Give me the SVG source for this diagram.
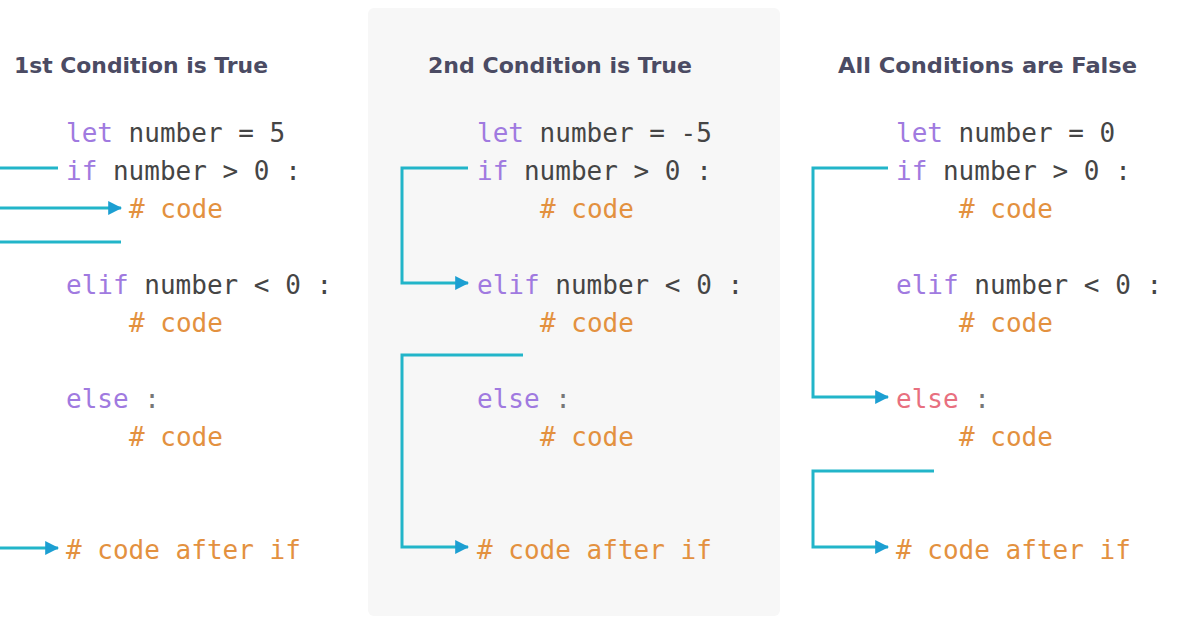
<svg xmlns="http://www.w3.org/2000/svg" width="1200" height="628" viewBox="0 0 1200 628">
<defs>
<style>
.title{font-family:"DejaVu Sans","Noto Sans",sans-serif;font-weight:700;font-size:21px;fill:#4b4b63}
.code{font-family:"DejaVu Sans Mono","Liberation Mono",monospace;font-size:26px;fill:#454545}
.kw{fill:#a07ae0}
.cm{fill:#e3913f}
.er{fill:#e8707f}
.pu{fill:#777}
.ln{fill:none;stroke:#22b5c9;stroke-width:3}
.ar{fill:none;stroke:#22b5c9;stroke-width:3;marker-end:url(#ah)}
</style>
<marker id="ah" viewBox="0 0 12 12" refX="11" refY="6" markerWidth="14" markerHeight="14" markerUnits="userSpaceOnUse" orient="auto">
<path d="M0,0 L12,6 L0,12 z" fill="#1c9fd2"/>
</marker>
</defs>
<rect x="0" y="0" width="1200" height="628" fill="#ffffff"/>
<rect id="panel-bg" x="368" y="8" width="412" height="608" rx="6" fill="#f7f7f7"/>

<g id="panel-1st">
<text class="title" x="14" y="73" textLength="254" lengthAdjust="spacingAndGlyphs">1st Condition is True</text>
<text class="code" x="66" y="142"><tspan class="kw">let</tspan> number = 5</text>
<text class="code" x="66" y="180"><tspan class="kw">if</tspan> number &gt; 0 :</text>
<text class="code cm" x="129" y="218"># code</text>
<text class="code" x="66" y="294"><tspan class="kw">elif</tspan> number &lt; 0 :</text>
<text class="code cm" x="129" y="332"># code</text>
<text class="code" x="66" y="408"><tspan class="kw">else</tspan> <tspan class="pu">:</tspan></text>
<text class="code cm" x="129" y="446"># code</text>
<text class="code cm" x="66" y="559"># code after if</text>
</g>

<g id="panel-2nd">
<text class="title" x="428" y="73" textLength="264" lengthAdjust="spacingAndGlyphs">2nd Condition is True</text>
<text class="code" x="477" y="142"><tspan class="kw">let</tspan> number = -5</text>
<text class="code" x="477" y="180"><tspan class="kw">if</tspan> number &gt; 0 :</text>
<text class="code cm" x="540" y="218"># code</text>
<text class="code" x="477" y="294"><tspan class="kw">elif</tspan> number &lt; 0 :</text>
<text class="code cm" x="540" y="332"># code</text>
<text class="code" x="477" y="408"><tspan class="kw">else</tspan> <tspan class="pu">:</tspan></text>
<text class="code cm" x="540" y="446"># code</text>
<text class="code cm" x="477" y="559"># code after if</text>
</g>

<g id="panel-all-false">
<text class="title" x="838" y="73" textLength="299" lengthAdjust="spacingAndGlyphs">All Conditions are False</text>
<text class="code" x="896" y="142"><tspan class="kw">let</tspan> number = 0</text>
<text class="code" x="896" y="180"><tspan class="kw">if</tspan> number &gt; 0 :</text>
<text class="code cm" x="959" y="218"># code</text>
<text class="code" x="896" y="294"><tspan class="kw">elif</tspan> number &lt; 0 :</text>
<text class="code cm" x="959" y="332"># code</text>
<text class="code" x="896" y="408"><tspan class="er">else</tspan> <tspan class="pu">:</tspan></text>
<text class="code cm" x="959" y="446"># code</text>
<text class="code cm" x="896" y="559"># code after if</text>
</g>

<g id="connectors">
<path class="ln" d="M-2,168 H58"/>
<path class="ar" d="M-2,208 H121"/>
<path class="ln" d="M-2,242 H121"/>
<path class="ar" d="M-2,548 H58"/>

<path class="ar" d="M468,168 H402 V283 H468"/>
<path class="ar" d="M523,355 H402 V547 H468"/>

<path class="ar" d="M888,168 H813 V397 H888"/>
<path class="ar" d="M934,471 H813 V547 H888"/>
</g>
</svg>
